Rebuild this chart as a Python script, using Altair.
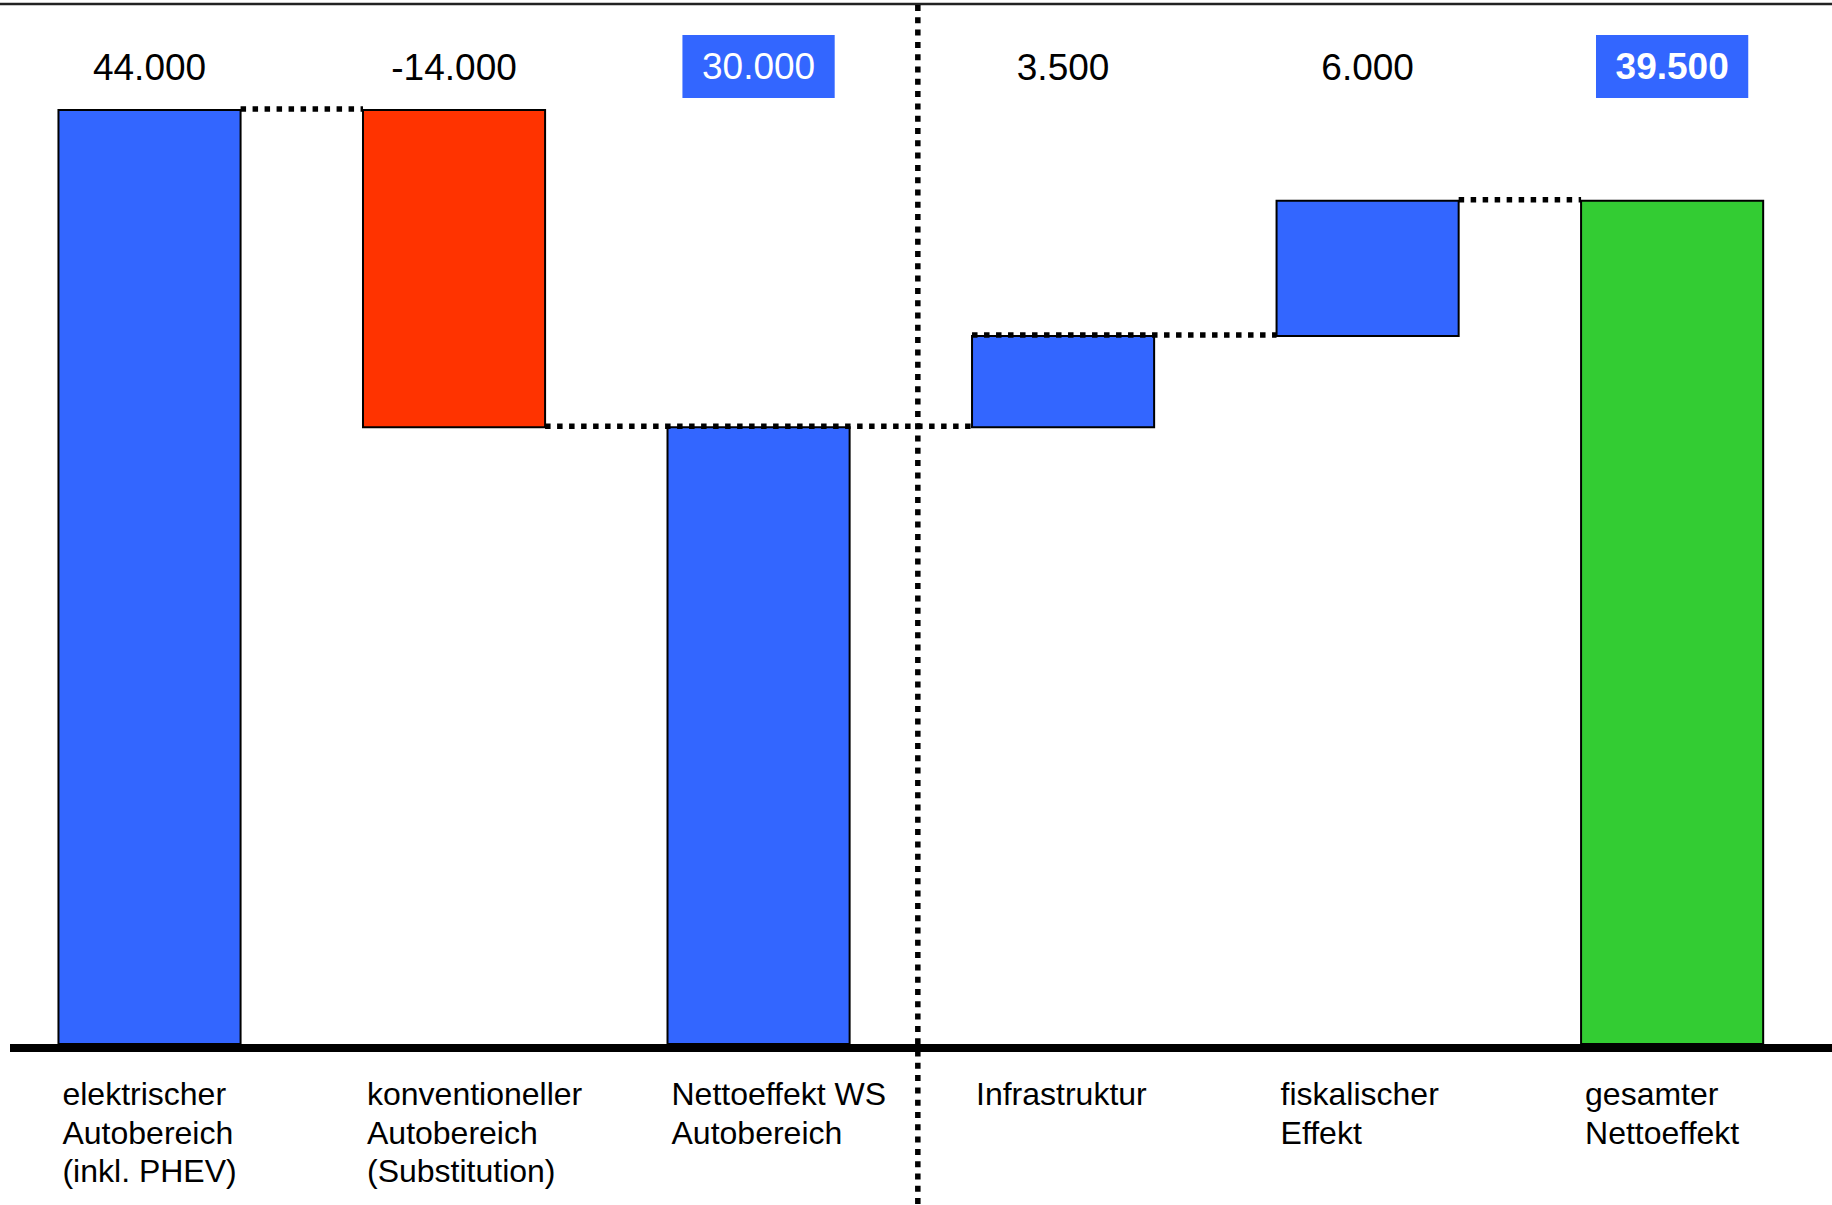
import altair as alt
import pandas as pd

# ---- data ----
categories = [
    "elektrischer\nAutobereich\n(inkl. PHEV)",
    "konventioneller\nAutobereich\n(Substitution)",
    "Nettoeffekt WS\nAutobereich",
    "Infrastruktur",
    "fiskalischer\nEffekt",
    "gesamter\nNettoeffekt",
]
value_labels = ["44.000", "-14.000", "30.000", "3.500", "6.000", "39.500"]
bar_start = [0, 44000, 0, 29050, 33350, 0]
bar_end = [44000, 29050, 29050, 33350, 39730, 39730]
bar_kind = ["Zuwachs", "Abzug", "Zwischensumme", "Zuwachs", "Zuwachs", "Gesamt"]
label_style = ["plain", "plain", "boxed", "plain", "plain", "boxed_bold"]

# connectors (dotted level lines) between bars
conn_from = [0, 1, 3, 4]
conn_from_edge = ["right", "right", "left", "right"]
conn_to = [1, 3, 4, 5]

# group separator sits between bar 3 and bar 4
separator_after = [2]

# ---- styling ----
W, H = 1832, 1205
HALF = 0.299        # half bar width in slot units
BOXHALF = 0.25      # half width of highlighted label box
FONT = "Liberation Sans"
BLUE, RED, GREEN = "#3366FF", "#FF3300", "#33CC33"

idx = list(range(len(categories)))
bars = pd.DataFrame({
    "idx": idx,
    "cat": categories,
    "label": value_labels,
    "start": bar_start,
    "end": bar_end,
    "kind": bar_kind,
    "style": label_style,
})
bars["x0"] = bars["idx"] - HALF
bars["x1"] = bars["idx"] + HALF
bars["bx0"] = bars["idx"] - BOXHALF
bars["bx1"] = bars["idx"] + BOXHALF

conns = pd.DataFrame({
    "x0": [f + (HALF if e == "right" else -HALF) for f, e in zip(conn_from, conn_from_edge)],
    "x1": [t - HALF for t in conn_to],
    "level": [bar_end[f] for f in conn_from],
})

seps = pd.DataFrame({"pos": [s + 0.5 for s in separator_after]})
zero = pd.DataFrame({"v": [0]})

xs = alt.Scale(domain=[-0.491, 5.525], nice=False, zero=False)
ys = alt.Scale(domain=[-7585, 49183], nice=False, zero=False)

base = alt.Chart(bars)

rects = base.mark_rect(stroke="black", strokeWidth=2).encode(
    x=alt.X("x0:Q", scale=xs, axis=None),
    x2="x1:Q",
    y=alt.Y("start:Q", scale=ys, axis=None),
    y2="end:Q",
    color=alt.Color(
        "kind:N",
        scale=alt.Scale(domain=["Zuwachs", "Abzug", "Zwischensumme", "Gesamt"],
                        range=[BLUE, RED, BLUE, GREEN]),
        legend=None,
    ),
)

connectors = alt.Chart(conns).mark_rule(
    color="black", strokeWidth=5.5, strokeDash=[5.5, 6.5], yOffset=-1
).encode(
    x=alt.X("x0:Q", scale=xs, axis=None),
    x2="x1:Q",
    y=alt.Y("level:Q", scale=ys, axis=None),
)

separator = alt.Chart(seps).mark_rule(
    color="black", strokeWidth=5.5, strokeDash=[6, 6.3], xOffset=7
).encode(
    x=alt.X("pos:Q", scale=xs, axis=None),
    y=alt.value(5),
    y2=alt.value(H),
)

top_line = alt.Chart(zero).mark_rule(color="#222222", strokeWidth=2.5).encode(
    x=alt.value(0), x2=alt.value(W), y=alt.value(4)
)

baseline = alt.Chart(zero).mark_rule(color="black", strokeWidth=8, yOffset=4).encode(
    x=alt.value(10), x2=alt.value(W), y=alt.Y("v:Q", scale=ys, axis=None)
)

boxes = base.transform_filter(alt.datum.style != "plain").mark_rect(color=BLUE).encode(
    x=alt.X("bx0:Q", scale=xs, axis=None),
    x2="bx1:Q",
    y=alt.value(35),
    y2=alt.value(98),
)

txt_plain = base.transform_filter(alt.datum.style == "plain").mark_text(
    font=FONT, fontSize=37, color="black", align="center", baseline="middle"
).encode(x=alt.X("idx:Q", scale=xs, axis=None), y=alt.value(69), text="label:N")

txt_boxed = base.transform_filter(alt.datum.style == "boxed").mark_text(
    font=FONT, fontSize=37, color="white", align="center", baseline="middle"
).encode(x=alt.X("idx:Q", scale=xs, axis=None), y=alt.value(68), text="label:N")

txt_bold = base.transform_filter(alt.datum.style == "boxed_bold").mark_text(
    font=FONT, fontSize=37, fontWeight="bold", color="white", align="center", baseline="middle"
).encode(x=alt.X("idx:Q", scale=xs, axis=None), y=alt.value(68), text="label:N")

cat_text = base.mark_text(
    font=FONT, fontSize=32, color="black", align="left", baseline="alphabetic",
    lineBreak="\n", lineHeight=38.5, dx=4
).encode(x=alt.X("x0:Q", scale=xs, axis=None), y=alt.value(1105), text="cat:N")

chart = alt.layer(
    rects, connectors, baseline, top_line, separator, boxes,
    txt_plain, txt_boxed, txt_bold, cat_text
).properties(
    width=W, height=H, padding=0, autosize=alt.AutoSizeParams(type="none"),
    background="white",
).configure_view(stroke=None)

chart.save("out.html", embed_options={"renderer": "svg", "actions": False})
